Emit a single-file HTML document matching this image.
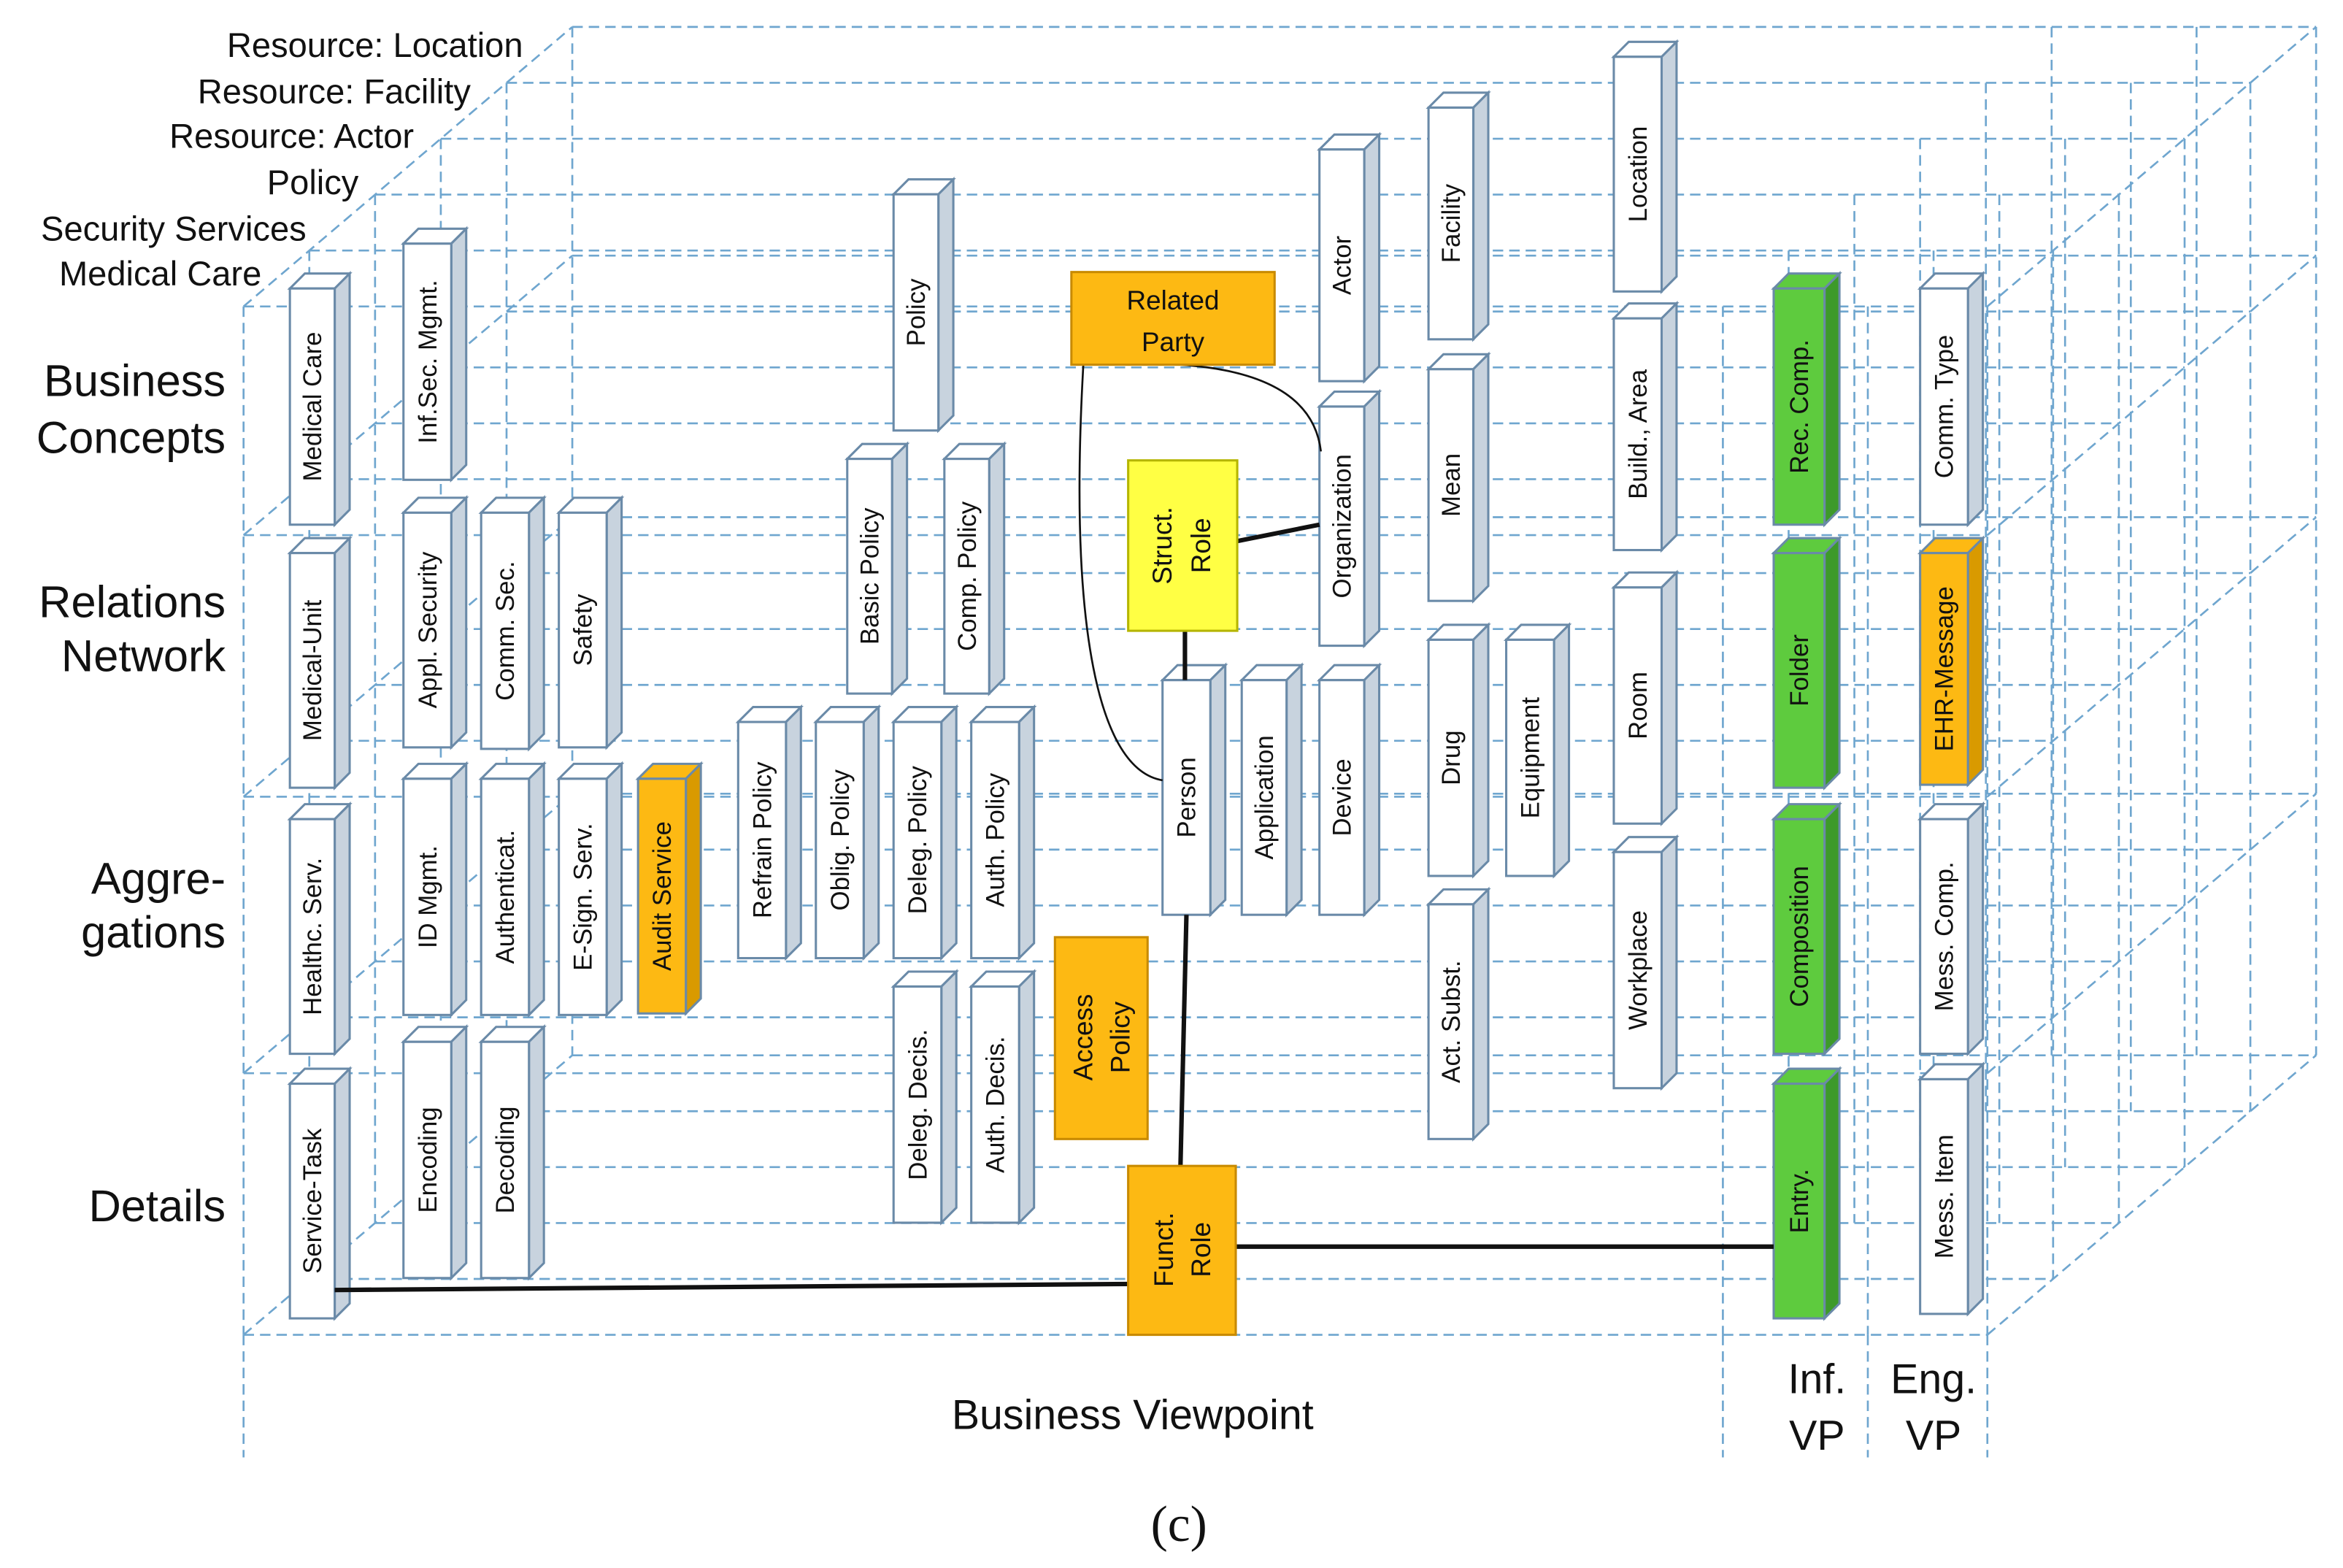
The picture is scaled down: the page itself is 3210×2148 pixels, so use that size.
<!DOCTYPE html>
<html><head><meta charset="utf-8"><style>
html,body{margin:0;padding:0;background:#fff;}
svg{display:block;}
text{font-family:"Liberation Sans",sans-serif;fill:#111;}
</style></head><body>
<svg width="3210" height="2148" viewBox="0 0 1568 1049" preserveAspectRatio="none" xmlns="http://www.w3.org/2000/svg">
<defs>
<style>.g{stroke:#6fa6cf;stroke-width:1.3;stroke-dasharray:7 4;fill:none}</style>
</defs>
<g id="grid"></g>
<script>
(function(){
var g=document.getElementById('grid'),ns='http://www.w3.org/2000/svg';
function L(x1,y1,x2,y2){var l=document.createElementNS(ns,'line');l.setAttribute('x1',x1);l.setAttribute('y1',y1);l.setAttribute('x2',x2);l.setAttribute('y2',y2);l.setAttribute('class','g');g.appendChild(l);}
var rows=[205,358,533,718,893];
for(var k=5;k>=0;k--){var dx=44*k,dy=-37.4*k;
 rows.forEach(function(r){L(163+dx,r+dy,1330+dx,r+dy);});
 L(163+dx,205+dy,163+dx,893+dy);
 L(1153+dx,205+dy,1153+dx,893+dy);L(1250+dx,205+dy,1250+dx,893+dy);L(1330+dx,205+dy,1330+dx,893+dy);
}
rows.forEach(function(r){L(163,r,383,r-187);L(1330,r,1550,r-187);});
L(163,893,163,975);L(1153,893,1153,975);L(1250,893,1250,975);L(1330,893,1330,975);
})();
</script>
<g id="boxes"></g>
<script>
(function(){
var g=document.getElementById('boxes'),ns='http://www.w3.org/2000/svg';
function E(t,a,txt){var e=document.createElementNS(ns,t);for(var k in a)e.setAttribute(k,a[k]);if(txt!==undefined)e.textContent=txt;g.appendChild(e);return e;}
var C={w:['#fff','#c8d3de'],o:['#fdb913','#d99a00'],g:['#5ecb3e','#3d9a2a']};
var B=[["Medical Care",194,193,30,158,'w'],["Inf.Sec. Mgmt.",270,163,32,158,'w'],["Policy",598,130,30,158,'w'],["Actor",883,100,30,155,'w'],["Facility",956,72,30,155,'w'],["Location",1080,38,32,157,'w'],["Organization",883,272,30,160,'w'],["Mean",956,247,30,155,'w'],["Build., Area",1080,213,32,155,'w'],["Rec. Comp.",1187,193,34,158,'g'],["Comm. Type",1285,193,32,158,'w'],["Medical-Unit",194,370,30,157,'w'],["Appl. Security",270,343,32,157,'w'],["Comm. Sec.",322,343,32,158,'w'],["Safety",374,343,32,157,'w'],["Basic Policy",567,307,30,157,'w'],["Comp. Policy",632,307,30,157,'w'],["Folder",1187,370,34,157,'g'],["EHR-Message",1285,370,32,155,'o'],["Room",1080,393,32,158,'w'],["Drug",956,428,30,158,'w'],["Equipment",1008,428,32,158,'w'],["Person",778,455,32,157,'w'],["Application",831,455,30,157,'w'],["Device",883,455,30,157,'w'],["Refrain Policy",494,483,32,158,'w'],["Oblig. Policy",546,483,32,158,'w'],["Deleg. Policy",598,483,32,158,'w'],["Auth. Policy",650,483,32,158,'w'],["Healthc. Serv.",194,548,30,157,'w'],["ID Mgmt.",270,521,32,158,'w'],["Authenticat.",322,521,32,158,'w'],["E-Sign. Serv.",374,521,32,158,'w'],["Audit Service",427,521,32,157,'o'],["Composition",1187,548,34,157,'g'],["Mess. Comp.",1285,548,32,157,'w'],["Workplace",1080,570,32,158,'w'],["Act. Subst.",956,605,30,157,'w'],["Deleg. Decis.",598,660,32,158,'w'],["Auth. Decis.",650,660,32,158,'w'],["Service-Task",194,725,30,157,'w'],["Encoding",270,697,32,158,'w'],["Decoding",322,697,32,158,'w'],["Entry.",1187,725,34,157,'g'],["Mess. Item",1285,722,32,157,'w']];
B.forEach(function(b){var x=b[1],y=b[2],w=b[3],h=b[4],c=C[b[5]],d=10,st='#6a8aa8';
 E('polygon',{points:[x,y,x+d,y-d,x+w+d,y-d,x+w,y].join(' '),fill:c[0],stroke:st,'stroke-width':1.5});
 E('polygon',{points:[x+w,y,x+w+d,y-d,x+w+d,y+h-d,x+w,y+h].join(' '),fill:c[1],stroke:st,'stroke-width':1.5});
 E('rect',{x:x,y:y,width:w,height:h,fill:c[0],stroke:st,'stroke-width':1.5});
 var cx=x+w/2+6,cy=y+h/2;
 E('text',{x:cx,y:cy,'font-size':17,'text-anchor':'middle',transform:'rotate(-90 '+cx+' '+cy+')'},b[0]);
});
})();
</script>
<path d="M725,244 C715,420 735,515 778,522" fill="none" stroke="#111" stroke-width="1.3"/>
<path d="M790,244 C850,248 880,268 884,302" fill="none" stroke="#111" stroke-width="1.3"/>
<line x1="828" y1="362" x2="883" y2="351" stroke="#111" stroke-width="3"/>
<line x1="793" y1="422" x2="793" y2="455" stroke="#111" stroke-width="3"/>
<line x1="794" y1="612" x2="790" y2="780" stroke="#111" stroke-width="3"/>
<line x1="224" y1="863" x2="755" y2="859" stroke="#111" stroke-width="3"/>
<line x1="827" y1="834" x2="1187" y2="834" stroke="#111" stroke-width="3"/>
<rect x="717" y="182" width="136" height="62" fill="#fdb913" stroke="#c88a00" stroke-width="1.5"/>
<text x="785" y="207" font-size="18" text-anchor="middle">Related</text>
<text x="785" y="235" font-size="18" text-anchor="middle">Party</text>
<rect x="755" y="308" width="73" height="114" fill="#ffff44" stroke="#b5b500" stroke-width="1.5"/>
<g transform="rotate(-90 791 365)"><text x="791" y="358" font-size="18" text-anchor="middle">Struct.</text><text x="791" y="384" font-size="18" text-anchor="middle">Role</text></g>
<rect x="706" y="627" width="62" height="135" fill="#fdb913" stroke="#c88a00" stroke-width="1.5"/>
<g transform="rotate(-90 737 694)"><text x="737" y="688" font-size="18" text-anchor="middle">Access</text><text x="737" y="713" font-size="18" text-anchor="middle">Policy</text></g>
<rect x="755" y="780" width="72" height="113" fill="#fdb913" stroke="#c88a00" stroke-width="1.5"/>
<g transform="rotate(-90 791 836)"><text x="791" y="830" font-size="18" text-anchor="middle">Funct.</text><text x="791" y="855" font-size="18" text-anchor="middle">Role</text></g>
<g font-size="23" text-anchor="end">
<text x="350" y="38">Resource: Location</text>
<text x="315" y="69">Resource: Facility</text>
<text x="277" y="99">Resource: Actor</text>
<text x="240" y="130">Policy</text>
<text x="205" y="161">Security Services</text>
<text x="175" y="191">Medical  Care</text>
</g>
<g font-size="30" text-anchor="end">
<text x="151" y="265">Business</text><text x="151" y="303">Concepts</text>
<text x="151" y="413">Relations</text><text x="151" y="449">Network</text>
<text x="151" y="598">Aggre-</text><text x="151" y="634">gations</text>
<text x="151" y="817">Details</text>
</g>
<g font-size="28" text-anchor="middle">
<text x="758" y="956">Business Viewpoint</text>
<text x="1216" y="932">Inf.</text><text x="1216" y="970">VP</text>
<text x="1294" y="932">Eng.</text><text x="1294" y="970">VP</text>
</g>
<text x="789" y="1031" font-size="34" text-anchor="middle" style="font-family:'Liberation Serif',serif">(c)</text>
</svg>
</body></html>
